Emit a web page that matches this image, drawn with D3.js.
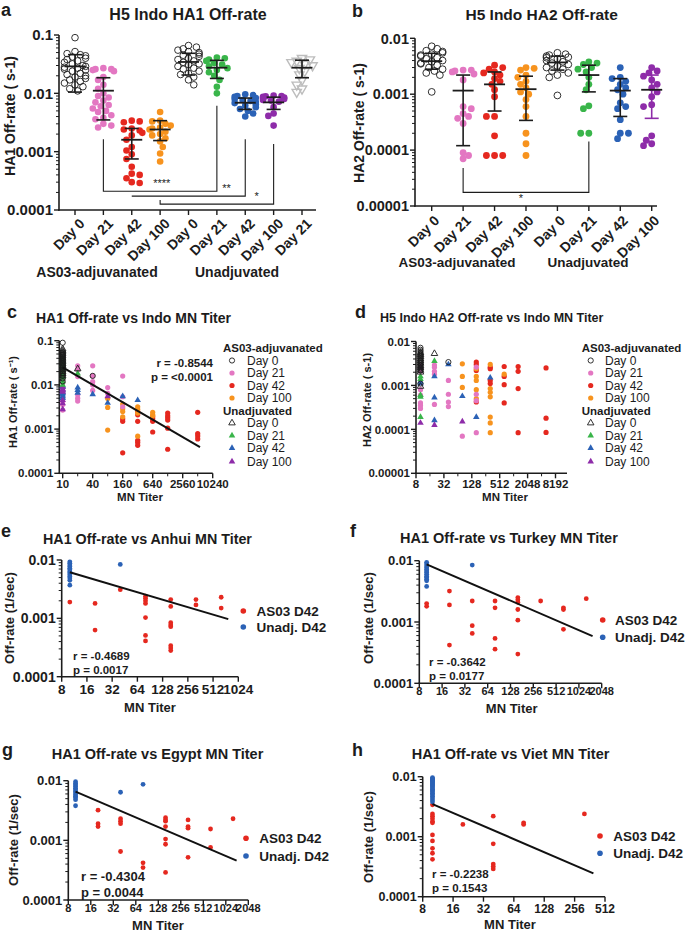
<!DOCTYPE html>
<html><head><meta charset="utf-8">
<script src="https://cdn.jsdelivr.net/npm/d3@7"></script>
<style>
body{margin:0;background:#fff}
svg{display:block;background:#fff}
text{font-family:"Liberation Sans",Arial,Helvetica,sans-serif;fill:#1c1c1c}
</style>
</head><body>
<svg id="fig" width="685" height="932"></svg>
<script>
// ================= DATA =================
const dayLabelsA = ["Day 0","Day 21","Day 42","Day 100","Day 0","Day 21","Day 42","Day 100","Day 21"];
const dayLabelsB = ["Day 0","Day 21","Day 42","Day 100","Day 0","Day 21","Day 42","Day 100"];
const groupNames = ["AS03-adjuvanated","Unadjuvated"];
const legendDays = ["Day 0","Day 21","Day 42","Day 100"];
const legendEH = ["AS03 D42","Unadj. D42"];

// Panel a : HA1 off-rate per group
const a_as_d0   = [0.09,0.052,0.048,0.046,0.044,0.042,0.04,0.038,0.036,0.034,0.032,0.03,0.029,0.028,0.027,0.026,0.025,0.024,0.022,0.021,0.02,0.019,0.018,0.017,0.016,0.015,0.014,0.013,0.012,0.011];
const a_as_d21  = [0.027,0.026,0.026,0.025,0.024,0.019,0.017,0.014,0.012,0.01,0.009,0.0085,0.0075,0.007,0.0063,0.006,0.0055,0.005,0.0048,0.0042,0.0038,0.0036,0.003,0.0028,0.0026];
const a_as_d42  = [0.0034,0.0033,0.0032,0.0025,0.0024,0.0023,0.0021,0.0019,0.0016,0.0012,0.00105,0.0009,0.00075,0.00055,0.00042,0.0004,0.00035,0.0003,0.00029];
const a_as_d100 = [0.0048,0.0034,0.0033,0.003,0.0028,0.0026,0.0025,0.0024,0.0022,0.002,0.0019,0.0017,0.0015,0.0012,0.00093,0.00068];
const a_un_d0   = [0.066,0.062,0.058,0.055,0.052,0.05,0.047,0.045,0.043,0.04,0.038,0.036,0.034,0.032,0.031,0.029,0.027,0.026,0.024,0.022,0.021,0.019,0.017,0.014];
const a_un_d21  = [0.041,0.04,0.038,0.036,0.033,0.031,0.029,0.027,0.025,0.023,0.02,0.017,0.013,0.01];
const a_un_d42  = [0.0096,0.0093,0.009,0.0087,0.0083,0.008,0.0077,0.0074,0.0071,0.0068,0.0065,0.0062,0.0058,0.0054,0.005,0.0045,0.004];
const a_un_d100 = [0.0092,0.009,0.0089,0.0087,0.0085,0.0083,0.008,0.0077,0.0075,0.0072,0.0058,0.0045,0.0041,0.0028];
const a_extra_d21 = [0.04,0.038,0.036,0.034,0.032,0.03,0.027,0.024,0.021,0.017,0.014,0.012,0.0105];
const a_mean = [0.029,0.0111,0.0016,0.0024,0.0345,0.0275,0.0069,0.007,0.0275];
const a_lo   = [0.0105,0.0035,0.00075,0.00155,0.0206,0.018,0.0053,0.0053,0.0185];
const a_hi   = [0.046,0.0185,0.0025,0.0034,0.0486,0.0368,0.0083,0.0086,0.037];
// brackets: [left group, right group, left top, bottom, right top, label, label position (group units)]
const a_brackets = [
  [1,5,0.00164,0.00021,0.0061,"****",3.06],
  [2,6,0.000173,0.000173,0.00164,"**",5.34],
  [3,7,0.000148,0.000126,0.00135,"*",6.4]
];

// Panel b : HA2 off-rate per group
const b_as_d0   = [0.0072,0.0065,0.006,0.0058,0.0055,0.0052,0.005,0.0048,0.0045,0.0043,0.004,0.0038,0.0036,0.0035,0.0033,0.003,0.0028,0.0026,0.0024,0.0022,0.0011];
const b_as_d21  = [0.0027,0.0027,0.0026,0.0025,0.0023,0.0018,0.0006,0.00055,0.00045,0.0004,0.00037,0.0003,0.00009,0.00008,0.00007];
const b_as_d42  = [0.0033,0.003,0.0028,0.0025,0.0024,0.0022,0.0019,0.0017,0.0015,0.0012,0.0009,0.0004,0.0004,0.00018,0.00008,0.00008,0.00008];
const b_as_d100 = [0.003,0.0029,0.0027,0.0022,0.002,0.0017,0.0015,0.0013,0.0011,0.001,0.0008,0.0006,0.0004,0.0002,0.00013,0.00008];
const b_un_d0   = [0.0055,0.0052,0.005,0.0048,0.0046,0.0045,0.0043,0.004,0.0038,0.0036,0.0034,0.0032,0.003,0.0028,0.0026,0.0024,0.0022,0.002,0.00095];
const b_un_d21  = [0.0038,0.0036,0.0034,0.003,0.0028,0.0025,0.002,0.0015,0.0012,0.00062,0.00055,0.0002,0.0002];
const b_un_d42  = [0.003,0.002,0.0019,0.0017,0.0015,0.0013,0.0012,0.001,0.0007,0.0006,0.00055,0.00035,0.0002,0.0002,0.00016];
const b_un_d100 = [0.003,0.0026,0.0024,0.0021,0.0018,0.0015,0.0013,0.0011,0.0009,0.00065,0.0006,0.00018,0.00015,0.00013,0.00012];
const b_mean = [0.0039,0.00116,0.0015,0.00123,0.0037,0.0022,0.00116,0.0012];
const b_lo   = [0.0028,0.00012,0.0005,0.00034,0.0027,0.0011,0.0004,0.00037];
const b_hi   = [0.0054,0.0022,0.0025,0.0021,0.0048,0.0033,0.0019,0.0022];
const b_brackets = [[1,5,0.0000478,0.0000175,0.000143,"*",2.84]];

// Panel c : [MN titer, HA1 off-rate]
const c_as_d0   = [[10,0.09],[10,0.055],[10,0.05],[10,0.048],[10,0.045],[10,0.042],[10,0.04],[10,0.038],[10,0.035],[10,0.032],[10,0.03],[10,0.028],[10,0.026],[10,0.024],[10,0.022],[10,0.02],[10,0.018],[10,0.016],[10,0.014],[10,0.012],[40,0.016]];
const c_as_d21  = [[10,0.026],[10,0.02],[10,0.0154],[10,0.013],[10,0.011],[10,0.0084],[10,0.007],[10,0.006],[10,0.005],[10,0.0042],[10,0.0036],[10,0.0027],[20,0.027],[20,0.022],[20,0.0154],[20,0.006],[20,0.005],[20,0.0043],[40,0.027],[40,0.016],[40,0.0118],[40,0.0099],[40,0.0075],[80,0.0087],[80,0.0064],[160,0.0158],[160,0.0054],[160,0.0032]];
const c_as_d42  = [[160,0.0017],[160,0.0015],[160,0.00029],[320,0.0025],[320,0.0021],[320,0.0015],[320,0.00056],[320,0.0005],[320,0.00043],[640,0.0019],[640,0.0017],[640,0.0015],[640,0.00086],[1280,0.0023],[1280,0.002],[1280,0.0018],[1280,0.0016],[1280,0.00105],[1280,0.00035],[5120,0.0024],[5120,0.00079],[5120,0.0007],[5120,0.0006]];
const c_as_d100 = [[80,0.0049],[80,0.0031],[80,0.00095],[160,0.0037],[160,0.0029],[160,0.0025],[160,0.0019],[320,0.0032],[320,0.0028],[320,0.0023],[320,0.00069],[640,0.0024],[640,0.0021],[640,0.002]];
const c_un_d0   = [[10,0.065],[10,0.06],[10,0.055],[10,0.05],[10,0.045],[10,0.04],[10,0.036],[10,0.033],[10,0.03],[10,0.027],[10,0.025],[10,0.022],[10,0.02],[10,0.018],[10,0.016],[20,0.023]];
const c_un_d21  = [[10,0.04],[10,0.035],[10,0.03],[10,0.028],[10,0.025],[10,0.022],[10,0.02],[10,0.018],[10,0.015],[10,0.012],[10,0.01],[20,0.018]];
const c_un_d42  = [[10,0.0095],[10,0.009],[10,0.0077],[10,0.007],[10,0.0065],[10,0.006],[10,0.0055],[10,0.005],[20,0.0087],[20,0.0076],[20,0.0066],[40,0.0061],[80,0.0039],[160,0.0055],[320,0.0045]];
const c_un_d100 = [[10,0.025],[10,0.009],[10,0.008],[10,0.0075],[10,0.007],[10,0.0045],[10,0.0038],[10,0.0028],[80,0.0055]];
const c_fit = [[10,0.025],[5700,0.00039]];
const c_stats = ["r = -0.8544","p = <0.0001"];

// Panel d : [MN titer, HA2 off-rate]
const d_as_d0   = [[10,0.0072],[10,0.0065],[10,0.006],[10,0.0055],[10,0.005],[10,0.0046],[10,0.0042],[10,0.0038],[10,0.0035],[10,0.0032],[10,0.003],[10,0.0028],[10,0.0026],[10,0.0024],[10,0.0022],[10,0.0011],[40,0.0034]];
const d_as_d21  = [[10,0.0028],[10,0.0024],[10,0.0021],[10,0.0008],[10,0.0006],[10,0.0004],[10,0.00035],[10,0.0003],[20,0.0029],[20,0.0026],[20,0.0021],[20,0.0018],[20,0.00037],[40,0.0013],[40,0.00063],[40,0.00042],[40,0.00033],[80,0.00007],[160,0.0026],[160,0.00063],[160,0.00045],[160,0.000084]];
const d_as_d42  = [[160,0.0034],[160,0.003],[160,0.0022],[160,0.00042],[320,0.0026],[320,0.0024],[320,0.0013],[320,0.0011],[640,0.0027],[640,0.0016],[640,0.00104],[640,0.0004],[1280,0.0027],[1280,0.0021],[1280,0.00085],[1280,0.000084],[5120,0.0025],[5120,0.00018],[5120,0.000085]];
const d_as_d100 = [[80,0.0031],[80,0.0016],[80,0.0009],[160,0.0024],[160,0.0016],[160,0.0013],[160,0.0008],[160,0.0005],[320,0.003],[320,0.00085],[320,0.0007],[320,0.00055],[320,0.00019],[320,0.00014],[320,0.000084],[640,0.0018]];
const d_un_d0   = [[10,0.0055],[10,0.005],[10,0.0045],[10,0.004],[10,0.0036],[10,0.0032],[10,0.0028],[10,0.0025],[10,0.0022],[10,0.002],[10,0.00095],[20,0.0053]];
const d_un_d21  = [[10,0.0016],[10,0.0014],[10,0.0006],[10,0.00055],[10,0.00019],[20,0.0036]];
const d_un_d42  = [[10,0.0012],[10,0.0011],[20,0.0016],[20,0.00053],[20,0.00016],[40,0.003],[80,0.00057],[160,0.00019],[320,0.0015]];
const d_un_d100 = [[10,0.0026],[10,0.00014],[20,0.000125],[80,0.00015]];

// Panels e-h : [MN titer, off-rate]
const e_as = [[10,0.0019],[20,0.0018],[20,0.00063],[40,0.0031],[80,0.0024],[80,0.0022],[80,0.002],[80,0.0018],[80,0.00103],[80,0.00051],[80,0.00041],[160,0.0021],[160,0.0016],[160,0.00084],[160,0.00077],[160,0.00072],[160,0.00034],[160,0.00031],[160,0.00028],[320,0.0021],[320,0.0017],[640,0.0023],[640,0.0015]];
const e_un = [[10,0.0093],[10,0.0088],[10,0.0082],[10,0.0077],[10,0.0072],[10,0.0068],[10,0.0063],[10,0.006],[10,0.0056],[10,0.0052],[10,0.0049],[10,0.0045],[10,0.0037],[40,0.0084]];
const e_fit = [[10,0.00615],[778,0.00097]];
const e_stats = ["r = -0.4689","p = 0.0017"];

const f_as = [[10,0.002],[10,0.0018],[20,0.0032],[20,0.0019],[20,0.00042],[40,0.0022],[40,0.00087],[40,0.00065],[80,0.0022],[80,0.0017],[80,0.00054],[80,0.00036],[160,0.0025],[160,0.0023],[160,0.0021],[160,0.0016],[160,0.00107],[160,0.0003],[320,0.0022],[640,0.0017],[640,0.0016],[640,0.00076],[1280,0.0024]];
const f_un = [[10,0.0094],[10,0.0088],[10,0.0082],[10,0.0077],[10,0.0072],[10,0.0068],[10,0.0064],[10,0.006],[10,0.0056],[10,0.0053],[10,0.005],[10,0.0047],[10,0.0038],[40,0.0085]];
const f_fit = [[10,0.0087],[1552,0.00059]];
const f_stats = ["r = -0.3642","p = 0.0177"];

const g_as = [[20,0.0032],[20,0.0019],[20,0.0017],[40,0.0023],[40,0.0021],[40,0.0019],[40,0.00065],[80,0.00042],[80,0.00035],[160,0.0024],[160,0.0022],[160,0.0021],[160,0.0017],[160,0.00105],[160,0.00086],[160,0.00029],[320,0.0022],[320,0.0017],[320,0.0016],[320,0.00052],[640,0.00155],[640,0.00076],[1280,0.0023]];
const g_un = [[10,0.0096],[10,0.009],[10,0.0085],[10,0.008],[10,0.0075],[10,0.007],[10,0.0066],[10,0.0062],[10,0.0058],[10,0.0055],[10,0.0052],[10,0.0048],[10,0.0038],[40,0.0064],[80,0.0087]];
const g_fit = [[10,0.00655],[1429,0.000456]];
const g_stats = ["r = -0.4304","p = 0.0044"];

const h_as = [[10,0.0034],[10,0.0024],[10,0.0022],[10,0.002],[10,0.0018],[10,0.0017],[10,0.00107],[10,0.00085],[10,0.00064],[10,0.00053],[10,0.00042],[20,0.0016],[40,0.0022],[40,0.00076],[40,0.00035],[40,0.00032],[40,0.00029],[80,0.0017],[80,0.0016],[320,0.0024]];
const h_un = [[10,0.0096],[10,0.0093],[10,0.009],[10,0.0087],[10,0.0084],[10,0.008],[10,0.0077],[10,0.0074],[10,0.0071],[10,0.0068],[10,0.0065],[10,0.0062],[10,0.0059],[10,0.0056],[10,0.0053],[10,0.005],[10,0.0047],[10,0.0044],[10,0.0041],[10,0.0038]];
const h_fit = [[10,0.0035],[393,0.000245]];
const h_stats = ["r = -0.2238","p = 0.1543"];

// tick labels
const yTicks4 = ["0.0001","0.001","0.01","0.1"];
const yTicksB = ["0.00001","0.0001","0.001","0.01"];
const yTicks3 = ["0.0001","0.001","0.01"];
const xTicksC = ["10","40","160","640","2560","10240"];
const xTicksD = ["8","32","128","512","2048","8192"];
const xTicksE = ["8","16","32","64","128","256","512","1024"];
const xTicksFG = ["8","16","32","64","128","256","512","1024","2048"];
const xTicksH = ["8","16","32","64","128","256","512"];

// ================= STYLE =================
const INK = "#1c1c1c";
const C = {pink:"#e377c2", red:"#e5281f", orange:"#f7931e", green:"#39b54a", blue:"#2b62b6", purple:"#8e2ca9", gray:"#bdbdbd"};

const svg = d3.select("#fig");

function txt(g, x, y, s, o = {}) {
  const t = g.append("text").attr("x", x).attr("y", y).text(s)
    .attr("font-size", o.size || 12).attr("font-weight", o.weight || "bold")
    .attr("text-anchor", o.anchor || "start");
  if (o.dy) t.attr("dy", o.dy);
  if (o.rotate !== undefined) t.attr("transform", `rotate(${o.rotate},${x},${y})`);
  return t;
}
function line(g, x1, y1, x2, y2, w = 1.5, col = INK) {
  return g.append("line").attr("x1", x1).attr("y1", y1).attr("x2", x2).attr("y2", y2)
    .attr("stroke", col).attr("stroke-width", w);
}
function yLogAxis(g, y, x0, ticks, size) {
  const [r0, r1] = y.range();
  line(g, x0, r0 + 0.75, x0, r1, 1.6);
  const vals = ticks.map(Number);
  vals.forEach((v, i) => {
    line(g, x0 - 5, y(v), x0, y(v), 1.4);
    txt(g, x0 - 6, y(v), ticks[i], {size, anchor: "end", dy: "0.36em"});
    if (i < vals.length - 1) for (let k = 2; k <= 9; k++) line(g, x0 - 3, y(v * k), x0, y(v * k), 1);
  });
}
function xLogAxis(g, x, y0, x0, xEnd, ticks, size, labelY, minor) {
  line(g, x0 - 0.8, y0, xEnd, y0, 1.6);
  ticks.forEach(s => {
    const v = +s;
    line(g, x(v), y0, x(v), y0 + 5, 1.4);
    txt(g, x(v), labelY, s, {size, anchor: "middle"});
    if (minor && x(v * 2) < xEnd) line(g, x(v * 2), y0, x(v * 2), y0 + 3, 1);
  });
}
function mark(g, type, cx, cy, col, s) {
  if (type === "dot") g.append("circle").attr("cx", cx).attr("cy", cy).attr("r", s).attr("fill", col);
  else if (type === "ring") g.append("circle").attr("cx", cx).attr("cy", cy).attr("r", s).attr("fill", "none").attr("stroke", INK).attr("stroke-width", 0.9);
  else if (type === "tri" || type === "otri" || type === "dtri") {
    const p = g.append("path").attr("d", d3.symbol(d3.symbolTriangle, s * s * 2.2)())
      .attr("transform", `translate(${cx},${cy})` + (type === "dtri" ? " rotate(180)" : ""));
    if (type === "tri") p.attr("fill", col);
    else p.attr("fill", "none").attr("stroke", col).attr("stroke-width", type === "dtri" ? 1.4 : 0.9);
  }
}
// beeswarm-style horizontal spread (layout only)
function swarm(vals, y, r, maxW) {
  const pts = vals.map(v => ({v, y: y(v)})).sort((a, b) => a.y - b.y);
  const placed = [], minD = r * 1.75, step = r * 0.8;
  pts.forEach((p, idx) => {
    let chosen = 0;
    for (let k = 0; k < 40; k++) {
      const sgn = (k + idx) % 2 === 0 ? 1 : -1;
      const dx = k === 0 ? 0 : sgn * Math.ceil(k / 2) * step;
      if (Math.abs(dx) > maxW) break;
      if (placed.every(q => Math.hypot(q.dx - dx, q.y - p.y) >= minD)) { chosen = dx; break; }
      chosen = dx;
    }
    p.dx = chosen; placed.push(p);
  });
  return pts;
}

// ================= PANELS a, b =================
function dotPanel(cfg) {
  const g = svg.append("g");
  const n = cfg.groups.length;
  const x = d3.scalePoint().domain(d3.range(n)).range(cfg.xRange);
  const y = d3.scaleLog().domain(cfg.yDomain).range(cfg.yRange);
  const y0 = cfg.yRange[0];
  yLogAxis(g, y, cfg.axisX, cfg.yTicks, cfg.tickSize);
  line(g, cfg.axisX - 0.8, y0, cfg.axisEnd, y0, 1.6);
  cfg.labels.forEach((s, i) => {
    line(g, x(i), y0, x(i), y0 + 5, 1.4);
    g.append("text").text(s).attr("font-size", cfg.labelSize).attr("font-weight", "bold")
      .attr("text-anchor", "end").attr("dy", "0.36em")
      .attr("transform", `translate(${x(i) + cfg.labDx},${y0 + cfg.labDy}) rotate(-45)`);
  });
  cfg.groups.forEach((grp, i) => {
    swarm(grp.vals, y, cfg.r, 13).forEach(p => mark(g, grp.type, x(i) + p.dx, p.y, grp.col, grp.type === "dtri" ? cfg.r * 1.25 : cfg.r));
  });
  cfg.groups.forEach((grp, i) => {
    const col = grp.bar || INK, cx = x(i);
    line(g, cx, y(cfg.hi[i]), cx, y(cfg.lo[i]), 1.6, col);
    line(g, cx - 7, y(cfg.hi[i]), cx + 7, y(cfg.hi[i]), 1.6, col);
    line(g, cx - 7, y(cfg.lo[i]), cx + 7, y(cfg.lo[i]), 1.6, col);
    line(g, cx - 10.5, y(cfg.mean[i]), cx + 10.5, y(cfg.mean[i]), 1.8, INK);
  });
  const step = x.step();
  cfg.brackets.forEach(b => {
    const [l, r, lt, bot, rt, lab, lp] = b;
    g.append("path").attr("fill", "none").attr("stroke", INK).attr("stroke-width", 1.1)
      .attr("d", `M${x(l)},${y(lt)}V${y(bot)}H${x(r)}V${y(rt)}`);
    txt(g, cfg.xRange[0] + lp * step, y(bot) + cfg.starDy, lab, {size: 11, weight: "normal", anchor: "middle"});
  });
  txt(g, cfg.grpX[0], cfg.grpY, groupNames[0], {size: cfg.grpSize, anchor: "middle"});
  txt(g, cfg.grpX[1], cfg.grpY, groupNames[1], {size: cfg.grpSize, anchor: "middle"});
  txt(g, cfg.title[0], cfg.title[1], cfg.title[2], {size: cfg.title[3], anchor: "middle"});
  txt(g, cfg.ylab[0], cfg.ylab[1], cfg.ylab[2], {size: cfg.ylab[3], anchor: "middle", rotate: -90, dy: "0.36em"});
  txt(g, cfg.letter[0], cfg.letter[1], cfg.letter[2], {size: 18});
}

dotPanel({
  xRange: [75, 302], axisX: 59, axisEnd: 316, yDomain: [1e-4, 0.1], yRange: [210, 35],
  yTicks: yTicks4, tickSize: 15, labels: dayLabelsA, labelSize: 14, labDx: 7, labDy: 11, r: 3.3,
  groups: [
    {vals: a_as_d0, type: "ring"}, {vals: a_as_d21, type: "dot", col: C.pink},
    {vals: a_as_d42, type: "dot", col: C.red}, {vals: a_as_d100, type: "dot", col: C.orange},
    {vals: a_un_d0, type: "ring"}, {vals: a_un_d21, type: "dot", col: C.green},
    {vals: a_un_d42, type: "dot", col: C.blue}, {vals: a_un_d100, type: "dot", col: C.purple},
    {vals: a_extra_d21, type: "dtri", col: C.gray}
  ],
  mean: a_mean, lo: a_lo, hi: a_hi, brackets: a_brackets, starDy: -4,
  grpX: [97, 237], grpY: 277, grpSize: 14,
  title: [188, 20, "H5 Indo HA1 Off-rate", 16],
  ylab: [9.5, 116, "HA1 Off-rate ( s-1)", 14],
  letter: [1, 16, "a"]
});

dotPanel({
  xRange: [431.7, 651.7], axisX: 415, axisEnd: 657, yDomain: [1e-5, 0.01], yRange: [206, 38.3],
  yTicks: yTicksB, tickSize: 14.5, labels: dayLabelsB, labelSize: 14, labDx: 5, labDy: 12, r: 3.4,
  groups: [
    {vals: b_as_d0, type: "ring"}, {vals: b_as_d21, type: "dot", col: C.pink},
    {vals: b_as_d42, type: "dot", col: C.red}, {vals: b_as_d100, type: "dot", col: C.orange},
    {vals: b_un_d0, type: "ring"}, {vals: b_un_d21, type: "dot", col: C.green},
    {vals: b_un_d42, type: "dot", col: C.blue}, {vals: b_un_d100, type: "dot", col: C.purple, bar: C.purple}
  ],
  mean: b_mean, lo: b_lo, hi: b_hi, brackets: b_brackets, starDy: 10,
  grpX: [457, 588], grpY: 267, grpSize: 13.5,
  title: [541.7, 20, "H5 Indo HA2 Off-rate", 15.5],
  ylab: [359, 123, "HA2 Off-rate ( s-1)", 14],
  letter: [352, 17, "b"]
});

// ================= PANELS c, d =================
function titerPanel(cfg) {
  const g = svg.append("g");
  const x = d3.scaleLog().base(2).domain(cfg.xDomain).range(cfg.xRange);
  const y = d3.scaleLog().domain(cfg.yDomain).range(cfg.yRange);
  yLogAxis(g, y, cfg.xRange[0], cfg.yTicks, 11.5);
  xLogAxis(g, x, cfg.yRange[0], cfg.xRange[0], cfg.xEnd, cfg.xTicks, 11.5, cfg.yRange[0] + 15, true);
  const series = [
    {d: cfg.s[0], t: "ring"}, {d: cfg.s[1], t: "dot", c: C.pink}, {d: cfg.s[2], t: "dot", c: C.red},
    {d: cfg.s[3], t: "dot", c: C.orange}, {d: cfg.s[4], t: "otri", c: INK}, {d: cfg.s[5], t: "tri", c: C.green},
    {d: cfg.s[6], t: "tri", c: C.blue}, {d: cfg.s[7], t: "tri", c: C.purple}
  ];
  const drawOrder = [2, 3, 1, 6, 7, 5, 4, 0];
  drawOrder.forEach(k => series[k].d.forEach(p => mark(g, series[k].t, x(p[0]), y(p[1]), series[k].c, series[k].t === "dot" || series[k].t === "ring" ? 2.6 : 2.9)));
  if (cfg.fit) {
    line(g, x(cfg.fit[0][0]), y(cfg.fit[0][1]), x(cfg.fit[1][0]), y(cfg.fit[1][1]), 2, "#111");
    txt(g, cfg.statsX, cfg.statsY, cfg.stats[0], {size: 11.5, anchor: "end"});
    txt(g, cfg.statsX, cfg.statsY + 14, cfg.stats[1], {size: 11.5, anchor: "end"});
  }
  // legend
  const L = cfg.leg;
  txt(g, L.hx, L.y0, groupNames[0], {size: 11.5, dy: "0.36em"});
  txt(g, L.hx, L.y0 + 63, groupNames[1], {size: 11.5, dy: "0.36em"});
  const rowsY = [12.5, 25, 37.5, 50, 75, 87.5, 100, 113.5];
  series.forEach((s, k) => {
    const yy = L.y0 + rowsY[k];
    mark(g, s.t, L.sx, yy, s.c, s.t === "dot" || s.t === "ring" ? 2.6 : 2.9);
    txt(g, L.tx, yy, legendDays[k % 4], {size: 12, weight: "normal", dy: "0.36em"});
  });
  txt(g, cfg.xlab[0], cfg.xlab[1], "MN  Titer", {size: 11.5, anchor: "middle"});
  txt(g, cfg.ylab[0], cfg.ylab[1], cfg.ylab[2], {size: 11, anchor: "middle", rotate: -90, dy: "0.36em"});
  txt(g, cfg.title[0], cfg.title[1], cfg.title[2], {size: cfg.title[3]});
  txt(g, cfg.letter[0], cfg.letter[1], cfg.letter[2], {size: 18});
}

titerPanel({
  xDomain: [8.55, 10240], xRange: [59.3, 212.7], xEnd: 212.7, yDomain: [1e-4, 0.1], yRange: [473.3, 340.7],
  yTicks: yTicks4, xTicks: xTicksC,
  s: [c_as_d0, c_as_d21, c_as_d42, c_as_d100, c_un_d0, c_un_d21, c_un_d42, c_un_d100],
  fit: c_fit, stats: c_stats, statsX: 213, statsY: 367,
  leg: {hx: 223, sx: 232, tx: 247, y0: 348},
  xlab: [140, 501], ylab: [13.3, 402, "HA1 Off-rate ( s\u207B\u00B9)"],
  title: [36, 322.5, "HA1 Off-rate vs Indo MN Titer", 14], letter: [7, 318, "c"]
});

titerPanel({
  xDomain: [8, 8192], xRange: [416, 555.5], xEnd: 567, yDomain: [1e-5, 0.01], yRange: [473.3, 341.5],
  yTicks: yTicksB, xTicks: xTicksD,
  s: [d_as_d0, d_as_d21, d_as_d42, d_as_d100, d_un_d0, d_un_d21, d_un_d42, d_un_d100],
  fit: null,
  leg: {hx: 581.7, sx: 590.7, tx: 605, y0: 348},
  xlab: [505, 501], ylab: [367.5, 400, "HA2 Off-rate ( s-1)"],
  title: [380, 321.5, "H5 Indo HA2 Off-rate vs Indo MN Titer", 12.5], letter: [355, 318, "d"]
});

// ================= PANELS e-h =================
function d42Panel(cfg) {
  const g = svg.append("g");
  const x = d3.scaleLog().base(2).domain(cfg.xDomain).range(cfg.xRange);
  const y = d3.scaleLog().domain([1e-4, 0.01]).range(cfg.yRange);
  yLogAxis(g, y, cfg.xRange[0], yTicks3, cfg.yTickSize);
  xLogAxis(g, x, cfg.yRange[0], cfg.xRange[0], cfg.xRange[1], cfg.xTicks, cfg.xTickSize, cfg.xTickY, false);
  cfg.as.forEach(p => mark(g, "dot", x(p[0]), y(p[1]), C.red, 2.4));
  cfg.un.forEach(p => mark(g, "dot", x(p[0]), y(p[1]), C.blue, 2.4));
  line(g, x(cfg.fit[0][0]), y(cfg.fit[0][1]), x(cfg.fit[1][0]), y(cfg.fit[1][1]), 2, "#111");
  txt(g, cfg.statsX, cfg.statsY, cfg.stats[0], {size: cfg.statSize});
  txt(g, cfg.statsX, cfg.statsY + cfg.statSize * 1.25, cfg.stats[1], {size: cfg.statSize});
  mark(g, "dot", cfg.leg[0], cfg.leg[1], C.red, 2.8);
  mark(g, "dot", cfg.leg[0], cfg.leg[1] + cfg.leg[3], C.blue, 2.8);
  txt(g, cfg.leg[2], cfg.leg[1], legendEH[0], {size: 13.5, dy: "0.36em"});
  txt(g, cfg.leg[2], cfg.leg[1] + cfg.leg[3], legendEH[1], {size: 13.5, dy: "0.36em"});
  txt(g, cfg.xlab[0], cfg.xlab[1], "MN Titer", {size: 13, anchor: "middle"});
  txt(g, cfg.ylab[0], cfg.ylab[1], "Off-rate (1/sec)", {size: 13, anchor: "middle", rotate: -90, dy: "0.36em"});
  txt(g, cfg.title[0], cfg.title[1], cfg.title[2], {size: cfg.title[3]});
  txt(g, cfg.letter[0], cfg.letter[1], cfg.letter[2], {size: 18});
}

d42Panel({
  xDomain: [8, 1024], xRange: [61.7, 238.3], yRange: [676.7, 560], xTicks: xTicksE,
  yTickSize: 14, xTickSize: 13.5, xTickY: 694,
  as: e_as, un: e_un, fit: e_fit, stats: e_stats, statsX: 73, statsY: 660, statSize: 11.5,
  leg: [243.3, 611, 256.5, 16], xlab: [150, 711.5], ylab: [9.5, 618],
  title: [43, 544, "HA1  Off-rate vs Anhui MN Titer", 14.3], letter: [1, 537, "e"]
});
d42Panel({
  xDomain: [8, 2048], xRange: [419.3, 601.7], yRange: [683.3, 560.7], xTicks: xTicksFG,
  yTickSize: 13, xTickSize: 11, xTickY: 695,
  as: f_as, un: f_un, fit: f_fit, stats: f_stats, statsX: 429, statsY: 665.5, statSize: 11.5,
  leg: [602.7, 620, 615, 17.3], xlab: [511.7, 712.5], ylab: [368.5, 618],
  title: [400, 543.3, "HA1 Off-rate vs Turkey MN Titer", 14.5], letter: [350, 537, "f"]
});
d42Panel({
  xDomain: [8, 2048], xRange: [68.3, 248.3], yRange: [900, 780.7], xTicks: xTicksFG,
  yTickSize: 13, xTickSize: 11, xTickY: 911.5,
  as: g_as, un: g_un, fit: g_fit, stats: g_stats, statsX: 81, statsY: 881, statSize: 13,
  leg: [246, 838.3, 259.3, 17.7], xlab: [158, 929.5], ylab: [13, 840],
  title: [51.7, 759.3, "HA1 Off-rate vs Egypt MN Titer", 14.5], letter: [2, 756, "g"]
});
d42Panel({
  xDomain: [8, 512], xRange: [422.7, 605], yRange: [896.7, 776.7], xTicks: xTicksH,
  yTickSize: 12.5, xTickSize: 12, xTickY: 913,
  as: h_as, un: h_un, fit: h_fit, stats: h_stats, statsX: 432, statsY: 878, statSize: 11.5,
  leg: [600, 836, 613.3, 17.3], xlab: [510, 928.5], ylab: [368, 837],
  title: [411.7, 759.3, "HA1  Off-rate vs Viet MN Titer", 14.5], letter: [352, 756, "h"]
});
</script>
</body></html>
